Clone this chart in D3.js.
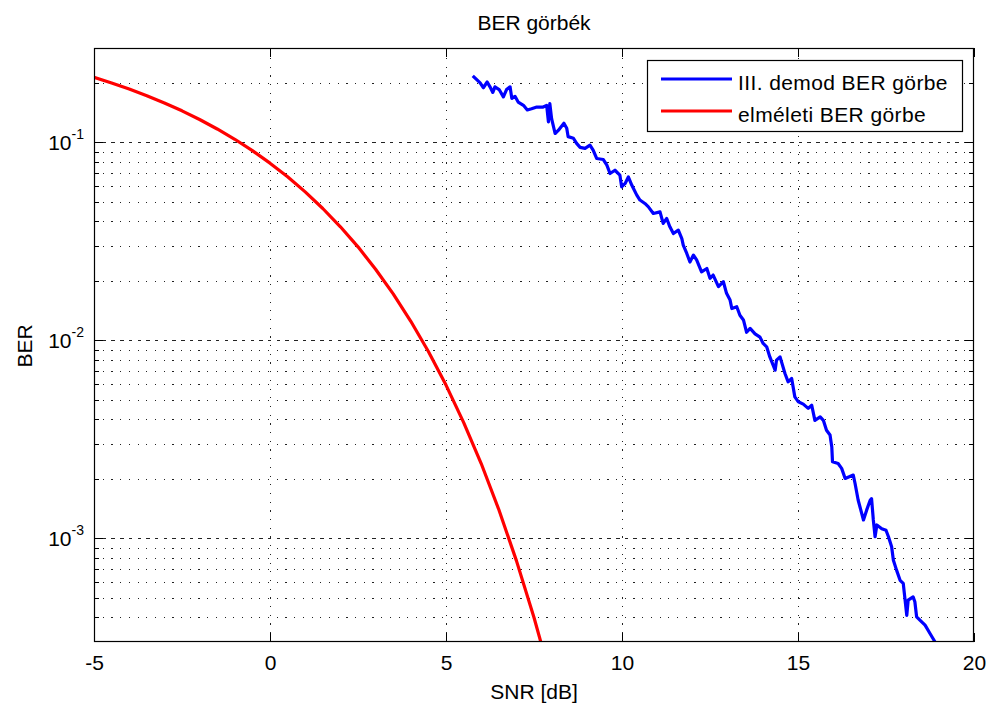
<!DOCTYPE html>
<html>
<head>
<meta charset="utf-8">
<script src="https://cdn.jsdelivr.net/npm/d3@7"></script>
<style>
  html, body { margin: 0; padding: 0; background: #fff; }
  svg { display: block; font-family: "Liberation Sans", Arial, Helvetica, sans-serif; }
</style>
</head>
<body>
<svg id="chart" width="989" height="709"></svg>
<script>
// ---------------- data ----------------
const titleText = "BER görbék";
const xLabelText = "SNR [dB]";
const yLabelText = "BER";
const seriesNames = ["III. demod BER görbe", "elméleti BER görbe"];
const seriesColors = ["#0000ff", "#ff0000"];

const xTicks = [-5, 0, 5, 10, 15, 20];
const xTickLabels = ["-5", "0", "5", "10", "15", "20"];
const yMajorTicks = [1e-1, 1e-2, 1e-3];
const yMajorExponents = ["-1", "-2", "-3"];
const yMinorTicks = [0.2, 0.09, 0.08, 0.07, 0.06, 0.05, 0.04, 0.03, 0.02,
  0.009, 0.008, 0.007, 0.006, 0.005, 0.004, 0.003, 0.002,
  0.0009, 0.0008, 0.0007, 0.0006, 0.0005, 0.0004];

// theoretical curve (red)
const snrTheory = [-5, -4.5, -4, -3.5, -3, -2.5, -2, -1.5, -1, -0.5, 0, 0.5, 1, 1.5, 2, 2.5, 3, 3.5, 4, 4.5, 5, 5.5, 6, 6.5, 7, 7.5, 8];
const berTheory = [0.2132, 0.1998, 0.1861, 0.1723, 0.1584, 0.1445, 0.1306, 0.1170, 0.1038, 0.0909, 0.0786, 0.0671, 0.0563, 0.0464, 0.0375, 0.0297, 0.0229, 0.0172, 0.0125, 0.00879, 0.00595, 0.00386, 0.00239, 0.00140, 0.000773, 0.000399, 0.000191];

// simulated curve (blue)
const snrSim = [5.76, 5.97, 6.06, 6.17, 6.25, 6.33, 6.39, 6.51, 6.63, 6.72, 6.82, 6.87, 6.96, 7.05, 7.20, 7.31, 7.43, 7.58, 7.76, 7.86, 7.91, 7.95, 8.00, 8.10, 8.19, 8.35, 8.43, 8.47, 8.62, 8.71, 8.81, 8.95, 9.09, 9.18, 9.28, 9.47, 9.57, 9.66, 9.80, 9.94, 9.99, 10.09, 10.18, 10.28, 10.42, 10.51, 10.65, 10.75, 10.89, 11.08, 11.17, 11.27, 11.36, 11.46, 11.60, 11.70, 11.74, 11.84, 11.93, 12.03, 12.12, 12.26, 12.41, 12.50, 12.59, 12.74, 12.88, 12.97, 13.07, 13.12, 13.26, 13.35, 13.45, 13.54, 13.64, 13.78, 13.92, 14.01, 14.11, 14.20, 14.35, 14.39, 14.49, 14.63, 14.72, 14.82, 14.91, 15.01, 15.15, 15.29, 15.39, 15.48, 15.63, 15.72, 15.81, 15.91, 15.96, 15.98, 16.14, 16.24, 16.34, 16.57, 16.62, 16.71, 16.86, 16.95, 17.05, 17.09, 17.14, 17.19, 17.24, 17.38, 17.50, 17.57, 17.66, 17.71, 17.80, 17.90, 17.99, 18.09, 18.13, 18.27, 18.32, 18.37, 18.47, 18.61, 18.75, 18.89];
const berSim = [0.217, 0.200, 0.189, 0.202, 0.191, 0.179, 0.191, 0.185, 0.170, 0.185, 0.191, 0.167, 0.171, 0.160, 0.154, 0.146, 0.148, 0.151, 0.151, 0.154, 0.127, 0.157, 0.132, 0.111, 0.115, 0.125, 0.118, 0.107, 0.105, 0.0989, 0.0944, 0.0933, 0.0969, 0.0914, 0.0830, 0.0820, 0.0768, 0.0697, 0.0724, 0.0684, 0.0597, 0.0621, 0.0670, 0.0608, 0.0542, 0.0512, 0.0492, 0.0473, 0.0438, 0.0446, 0.0390, 0.0413, 0.0375, 0.0347, 0.0361, 0.0327, 0.0303, 0.0275, 0.0249, 0.0270, 0.0255, 0.0222, 0.0231, 0.0206, 0.0214, 0.0187, 0.0198, 0.0173, 0.0160, 0.0145, 0.0148, 0.0134, 0.0127, 0.0110, 0.0115, 0.0108, 0.0104, 0.00966, 0.00929, 0.00826, 0.00708, 0.00796, 0.00826, 0.00681, 0.00618, 0.00643, 0.00519, 0.00490, 0.00477, 0.00454, 0.00471, 0.00395, 0.00411, 0.00395, 0.00352, 0.00333, 0.00290, 0.00244, 0.00239, 0.00226, 0.00201, 0.00209, 0.00190, 0.00156, 0.00124, 0.00139, 0.00156, 0.00159, 0.00124, 0.00102, 0.00117, 0.00112, 0.00110, 0.00102, 0.000908, 0.000777, 0.000692, 0.000615, 0.000593, 0.000409, 0.000488, 0.000507, 0.000479, 0.000402, 0.000386, 0.000365, 0.000331, 0.000301];

// ---------------- layout ----------------
const L = 94, R = 974, T = 48, B = 642;
const FS = 21;
const svg = d3.select("#chart");

const x = d3.scaleLinear().domain([-5, 20]).range([L, R]);
const y = d3.scaleLog().domain([3e-4, 0.3]).range([B, T]);

// ---------------- grid ----------------
const grid = svg.append("g");
function styleGrid(g, dash) {
  g.select(".domain").remove();
  g.selectAll("text").remove();
  g.selectAll("line").attr("stroke", "#222").attr("stroke-width", 1)
    .attr("stroke-dasharray", dash).attr("shape-rendering", "crispEdges");
}
grid.append("g").attr("transform", `translate(0,${B})`)
  .call(d3.axisBottom(x).tickValues(xTicks.filter(v => v > -5 && v < 20)).tickSize(-(B - T)).tickFormat(""))
  .call(g => styleGrid(g, "1.2,7.5"));
grid.append("g").attr("transform", `translate(${L},0)`)
  .call(d3.axisLeft(y).tickValues(yMinorTicks).tickSize(-(R - L)).tickFormat(""))
  .call(g => styleGrid(g, "1.2,7.5"));
grid.append("g").attr("transform", `translate(${L},0)`)
  .call(d3.axisLeft(y).tickValues(yMajorTicks).tickSize(-(R - L)).tickFormat(""))
  .call(g => styleGrid(g, "3.5,5.2"));

// ---------------- curves ----------------
svg.append("clipPath").attr("id", "plotclip")
  .append("rect").attr("x", L).attr("y", T).attr("width", R - L).attr("height", B - T);

const line = d3.line().x(d => x(d[0])).y(d => y(d[1]));
const curves = svg.append("g").attr("clip-path", "url(#plotclip)");
curves.append("path")
  .attr("d", line(snrSim.map((s, i) => [s, berSim[i]])))
  .attr("fill", "none").attr("stroke", seriesColors[0]).attr("stroke-width", 3.2)
  .attr("stroke-linejoin", "round");
curves.append("path")
  .attr("d", line(snrTheory.map((s, i) => [s, berTheory[i]])))
  .attr("fill", "none").attr("stroke", seriesColors[1]).attr("stroke-width", 3.2)
  .attr("stroke-linejoin", "round");

// ---------------- axes (inward ticks on all sides) ----------------
function styleTicks(g) {
  g.select(".domain").remove();
  g.selectAll("line").attr("stroke", "#000").attr("stroke-width", 1).attr("shape-rendering", "crispEdges");
}
const xb = svg.append("g").attr("transform", `translate(0,${B})`)
  .call(d3.axisBottom(x).tickValues(xTicks).tickSizeInner(-9).tickSizeOuter(0).tickPadding(13)
    .tickFormat((d, i) => xTickLabels[i]))
  .call(styleTicks);
xb.attr("font-size", FS).attr("font-family", null);
xb.selectAll("text").attr("fill", "#000");
svg.append("g").attr("transform", `translate(0,${T})`)
  .call(d3.axisTop(x).tickValues(xTicks).tickSizeInner(-9).tickSizeOuter(0).tickFormat(""))
  .call(styleTicks);
svg.append("g").attr("transform", `translate(${L},0)`)
  .call(d3.axisLeft(y).tickValues(yMajorTicks).tickSizeInner(-9).tickSizeOuter(0).tickFormat(""))
  .call(styleTicks);
svg.append("g").attr("transform", `translate(${L},0)`)
  .call(d3.axisLeft(y).tickValues(yMinorTicks).tickSizeInner(-5).tickSizeOuter(0).tickFormat(""))
  .call(styleTicks);
svg.append("g").attr("transform", `translate(${R},0)`)
  .call(d3.axisRight(y).tickValues(yMajorTicks).tickSizeInner(-9).tickSizeOuter(0).tickFormat(""))
  .call(styleTicks);
svg.append("g").attr("transform", `translate(${R},0)`)
  .call(d3.axisRight(y).tickValues(yMinorTicks).tickSizeInner(-5).tickSizeOuter(0).tickFormat(""))
  .call(styleTicks);

// y tick labels 10^k
const yl = svg.append("g");
yMajorTicks.forEach((v, i) => {
  const t = yl.append("text").attr("x", 84).attr("y", y(v) + 8)
    .attr("text-anchor", "end").attr("font-size", FS).attr("fill", "#000");
  t.append("tspan").text("10");
  t.append("tspan").attr("dy", -11).attr("font-size", 14).text(yMajorExponents[i]);
});

// border
svg.append("rect").attr("x", L + 0.5).attr("y", T + 0.5).attr("width", R - L - 1).attr("height", B - T - 1)
  .attr("fill", "none").attr("stroke", "#000").attr("stroke-width", 1.2);

// ---------------- titles ----------------
svg.append("text").attr("x", (L + R) / 2).attr("y", 30).attr("text-anchor", "middle")
  .attr("font-size", FS).attr("fill", "#000").text(titleText);
svg.append("text").attr("x", (L + R) / 2).attr("y", 699).attr("text-anchor", "middle")
  .attr("font-size", FS).attr("fill", "#000").text(xLabelText);
svg.append("text").attr("transform", `translate(32,346) rotate(-90)`).attr("text-anchor", "middle")
  .attr("font-size", FS).attr("fill", "#000").text(yLabelText);

// ---------------- legend ----------------
const lg = svg.append("g");
lg.append("rect").attr("x", 647.5).attr("y", 60.5).attr("width", 315).attr("height", 71)
  .attr("fill", "#fff").attr("stroke", "#000").attr("stroke-width", 1.2);
seriesNames.forEach((name, i) => {
  const cy = 79 + i * 32;
  lg.append("line").attr("x1", 661).attr("x2", 732).attr("y1", cy).attr("y2", cy)
    .attr("stroke", seriesColors[i]).attr("stroke-width", 3);
  lg.append("text").attr("x", 738).attr("y", cy + 10.5).attr("font-size", FS)
    .attr("letter-spacing", 0.4).attr("fill", "#000").text(name);
});
</script>
</body>
</html>
